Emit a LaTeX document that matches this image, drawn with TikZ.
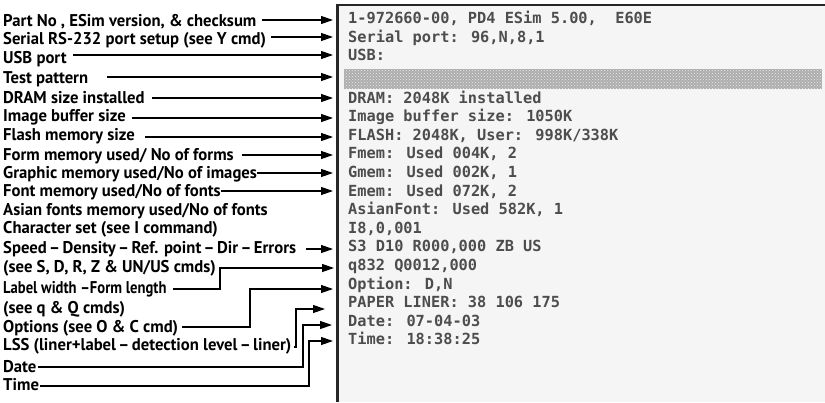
\documentclass[tikz,border=0pt]{standalone}
\usepackage{fontspec}
\setmainfont{PT Sans}
\newfontfamily\labfont{PT Sans}[FakeStretch=0.98]
\newfontfamily\labnarrow{PT Sans}[FakeStretch=0.86]
\newfontfamily\prfont{DejaVu Sans Mono}
\usetikzlibrary{arrows.meta,patterns}
\definecolor{prgray}{HTML}{4D4D4D}
\definecolor{paper}{HTML}{F5F5F5}
\newcommand\dsh{\hspace{0.14em}–\hspace{0.14em}}
\begin{document}
\begin{tikzpicture}[x=1pt,y=-1pt,
  lab/.style={anchor=base west,inner sep=0pt,font=\labfont\bfseries\fontsize{17}{17}\selectfont},
  prt/.style={anchor=base west,inner sep=0pt,text=prgray,font=\prfont\bfseries\fontsize{15.3}{15.3}\selectfont},
  arr/.style={line width=1.2pt,-{Triangle[length=12pt,width=8pt]}},
  frame/.style={line width=2.5pt,black!85}]
\useasboundingbox (0,0) rectangle (825,402);
\fill[white] (0,0) rectangle (825,402);
% paper
\fill[paper] (337.5,5) rectangle (825,402);
\coordinate (fb) at (337.5,402);
\coordinate (fc) at (337.5,5);
\coordinate (fr) at (825,5);
\draw[frame] (fb) -- (fc) -- (fr);
% test pattern
\fill[black!32] (344,69) rectangle (822,89);
\fill[pattern=crosshatch dots,pattern color=white!85!gray] (344,69) rectangle (822,89);
% printout
\node[prt] (p1) at (348,23.5) {1-972660-00, PD4 ESim 5.00,\ \ E60E};
\node[prt] (p2) at (348,42) {Serial port: 96,N,8,1};
\node[prt] (p3) at (348,60.5) {USB:};
\node[prt] (p5) at (348,103) {DRAM: 2048K installed};
\node[prt] (p6) at (348,121.6) {Image buffer size: 1050K};
\node[prt] (p7) at (348,140.2) {FLASH: 2048K, User: 998K/338K};
\node[prt] (p8) at (348,158.8) {Fmem: Used 004K, 2};
\node[prt] (p9) at (348,177.4) {Gmem: Used 002K, 1};
\node[prt] (p10) at (348,196) {Emem: Used 072K, 2};
\node[prt] (p11) at (348,214.6) {AsianFont: Used 582K, 1};
\node[prt] (p12) at (348,233.2) {I8,0,001};
\node[prt] (p13) at (348,251.8) {S3 D10 R000,000 ZB US};
\node[prt] (p14) at (348,270.4) {q832 Q0012,000};
\node[prt] (p15) at (348,289) {Option: D,N};
\node[prt] (p16) at (348,307.6) {PAPER LINER: 38 106 175};
\node[prt] (p17) at (348,326.2) {Date: 07-04-03};
\node[prt] (p18) at (348,344.8) {Time: 18:38:25};
% labels
\node[lab] (l1) at (3,26) {Part No , ESim version, \& checksum};
\node[lab] (l2) at (3,44) {Serial RS-232 port setup (see Y cmd)};
\node[lab] (l3) at (3,63) {USB port};
\node[lab] (l4) at (3,83) {Test pattern};
\node[lab] (l5) at (3,103) {DRAM size installed};
\node[lab] (l6) at (3,121) {Image buffer size};
\node[lab] (l7) at (3,140) {Flash memory size};
\node[lab] (l8) at (3,160) {Form memory used/ No of forms};
\node[lab] (l9) at (3,178) {Graphic memory used/No of images};
\node[lab] (l10) at (3,196) {Font memory used/No of fonts};
\node[lab] (l11) at (3,215) {Asian fonts memory used/No of fonts};
\node[lab] (l12) at (3,233) {Character set (see I command)};
\node[lab] (l13) at (3,253) {Speed\dsh Density\dsh Ref. point\dsh Dir\dsh Errors};
\node[lab] (l14) at (3,272) {(see S, D, R, Z \& UN/US cmds)};
\node[lab,font=\labnarrow\bfseries\fontsize{17}{17}\selectfont] (l15) at (3,293) {Label width –Form length};
\node[lab] (l16) at (3,313) {(see q \& Q cmds)};
\node[lab] (l17) at (3,332) {Options (see O \& C cmd)};
\node[lab] (l18) at (3,350) {LSS (liner+label\dsh detection level\dsh liner)};
\node[lab] (l19) at (3,372) {Date};
\node[lab] (l20) at (3,390) {Time};
% targets
\coordinate (t1) at (333,20);
\coordinate (t2) at (333,37);
\coordinate (t3) at (333,55);
\coordinate (t4) at (333,77);
\coordinate (t5) at (333,98);
\coordinate (t6) at (333,118);
\coordinate (t7) at (333,137);
\coordinate (t8) at (333,155);
\coordinate (t9) at (333,173);
\coordinate (t10) at (333,191);
\coordinate (t13) at (333,249);
\coordinate (t15) at (334,268);
\coordinate (t17) at (333,289);
\coordinate (t18) at (325,309);
\coordinate (t19) at (332,325);
\coordinate (t20) at (333,341);
% straight arrows
\draw[arr] ([xshift=5pt]l1.east |- t1) -- (t1);
\draw[arr] ([xshift=5pt]l2.east |- t2) -- (t2);
\draw[arr] ([xshift=6pt]l3.east |- t3) -- (t3);
\draw[arr] ([xshift=19pt]l4.east |- t4) -- (t4);
\draw[arr] ([xshift=7pt]l5.east |- t5) -- (t5);
\draw[arr] ([xshift=6pt]l6.east |- t6) -- (t6);
\draw[arr] ([xshift=10pt]l7.east |- t7) -- (t7);
\draw[arr] ([xshift=8pt]l8.east |- t8) -- (t8);
\draw[arr] (l9.east |- t9) -- (t9);
\draw[arr] (l10.east |- t10) -- (t10);
\draw[arr] ([xshift=10pt]l13.east |- t13) -- (t13);
% elbow arrows
\coordinate (s15) at (193,289);
\coordinate (k15) at (220,268);
\draw[arr] ([xshift=6pt]l15.east |- s15) -| (k15) -- (t15);
\coordinate (s17) at (189,327);
\coordinate (k17) at (250,289);
\draw[arr] ([xshift=4pt]l17.east |- s17) -| (k17) -- (t17);
\coordinate (s18) at (289,347);
\coordinate (k18) at (296,309);
\draw[arr] ([xshift=2pt]l18.east |- s18) -| (k18) -- (t18);
\coordinate (s19) at (42,367);
\coordinate (k19) at (303,325);
\draw[arr] ([xshift=1pt]l19.east |- s19) -| (k19) -- (t19);
\coordinate (s20) at (40,386);
\coordinate (k20) at (309,341);
\draw[arr] ([xshift=1pt]l20.east |- s20) -| (k20) -- (t20);
\end{tikzpicture}
\end{document}
